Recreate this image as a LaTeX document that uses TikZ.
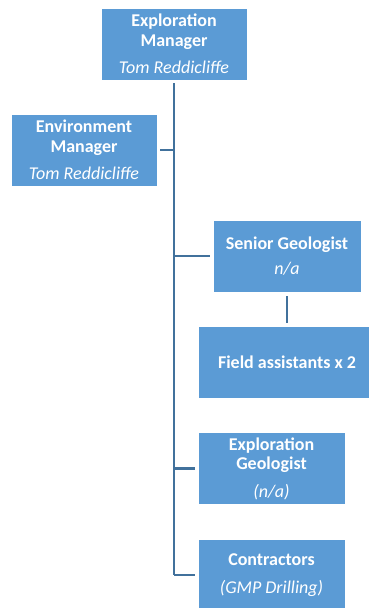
\documentclass[tikz,border=0pt]{standalone}
\usepackage{fontspec}
\setmainfont{Carlito}
\definecolor{boxblue}{HTML}{5B9BD5}
\definecolor{lineblue}{HTML}{41719C}

\begin{document}
\begin{tikzpicture}[
    x=1pt, y=-1pt,
    post/.style={rectangle, fill=boxblue, draw=white, line width=0.6pt,
        text=white, align=center, inner sep=0pt,
        font=\fontsize{18}{19.5}\selectfont\bfseries},
    link/.style={draw=lineblue, line width=2.6pt},
    gap/.style={shorten >=3pt}
  ]
    \useasboundingbox (0,0) rectangle (368,608);

    \node[post, minimum width=146pt, minimum height=72pt] (expmgr)  at (174,44)
        {Exploration\\Manager\\[8pt]\normalfont\itshape Tom Reddicliffe};
    \node[post, minimum width=146pt, minimum height=72pt] (envmgr)  at (84,150)
        {Environment\\Manager\\[8pt]\normalfont\itshape Tom Reddicliffe};
    \node[post, minimum width=148pt, minimum height=72pt] (seniorgeo) at (287,256)
        {Senior Geologist\\[6pt]\normalfont\itshape n/a};
    \node[post, minimum width=178pt, minimum height=72pt] (field)   at (287,362.5)
        {Field assistants x 2};
    \node[post, minimum width=147pt, minimum height=72pt] (expgeo)  at (271.5,468.5)
        {Exploration\\Geologist\\[8pt]\normalfont\itshape (n/a)};
    \node[post, minimum width=147pt, minimum height=72pt] (contr)   at (271.5,575)
        {Contractors\\[8pt]\normalfont\itshape (GMP Drilling)};

    \coordinate (trunkend) at (expmgr.south |- contr.west);

    \draw[link, shorten <=3pt] (expmgr.south) -- (trunkend);
    \draw[link, gap] (trunkend) -- (contr.west);
    \draw[link, shorten <=3pt] (envmgr.east) -- (envmgr.east -| expmgr.south);
    \draw[link, gap] (seniorgeo.west -| expmgr.south) -- (seniorgeo.west);
    \draw[link, gap] (expgeo.west -| expmgr.south) -- (expgeo.west);
    \draw[link, shorten <=4pt, gap] (seniorgeo.south) -- (field.north);
\end{tikzpicture}
\end{document}
